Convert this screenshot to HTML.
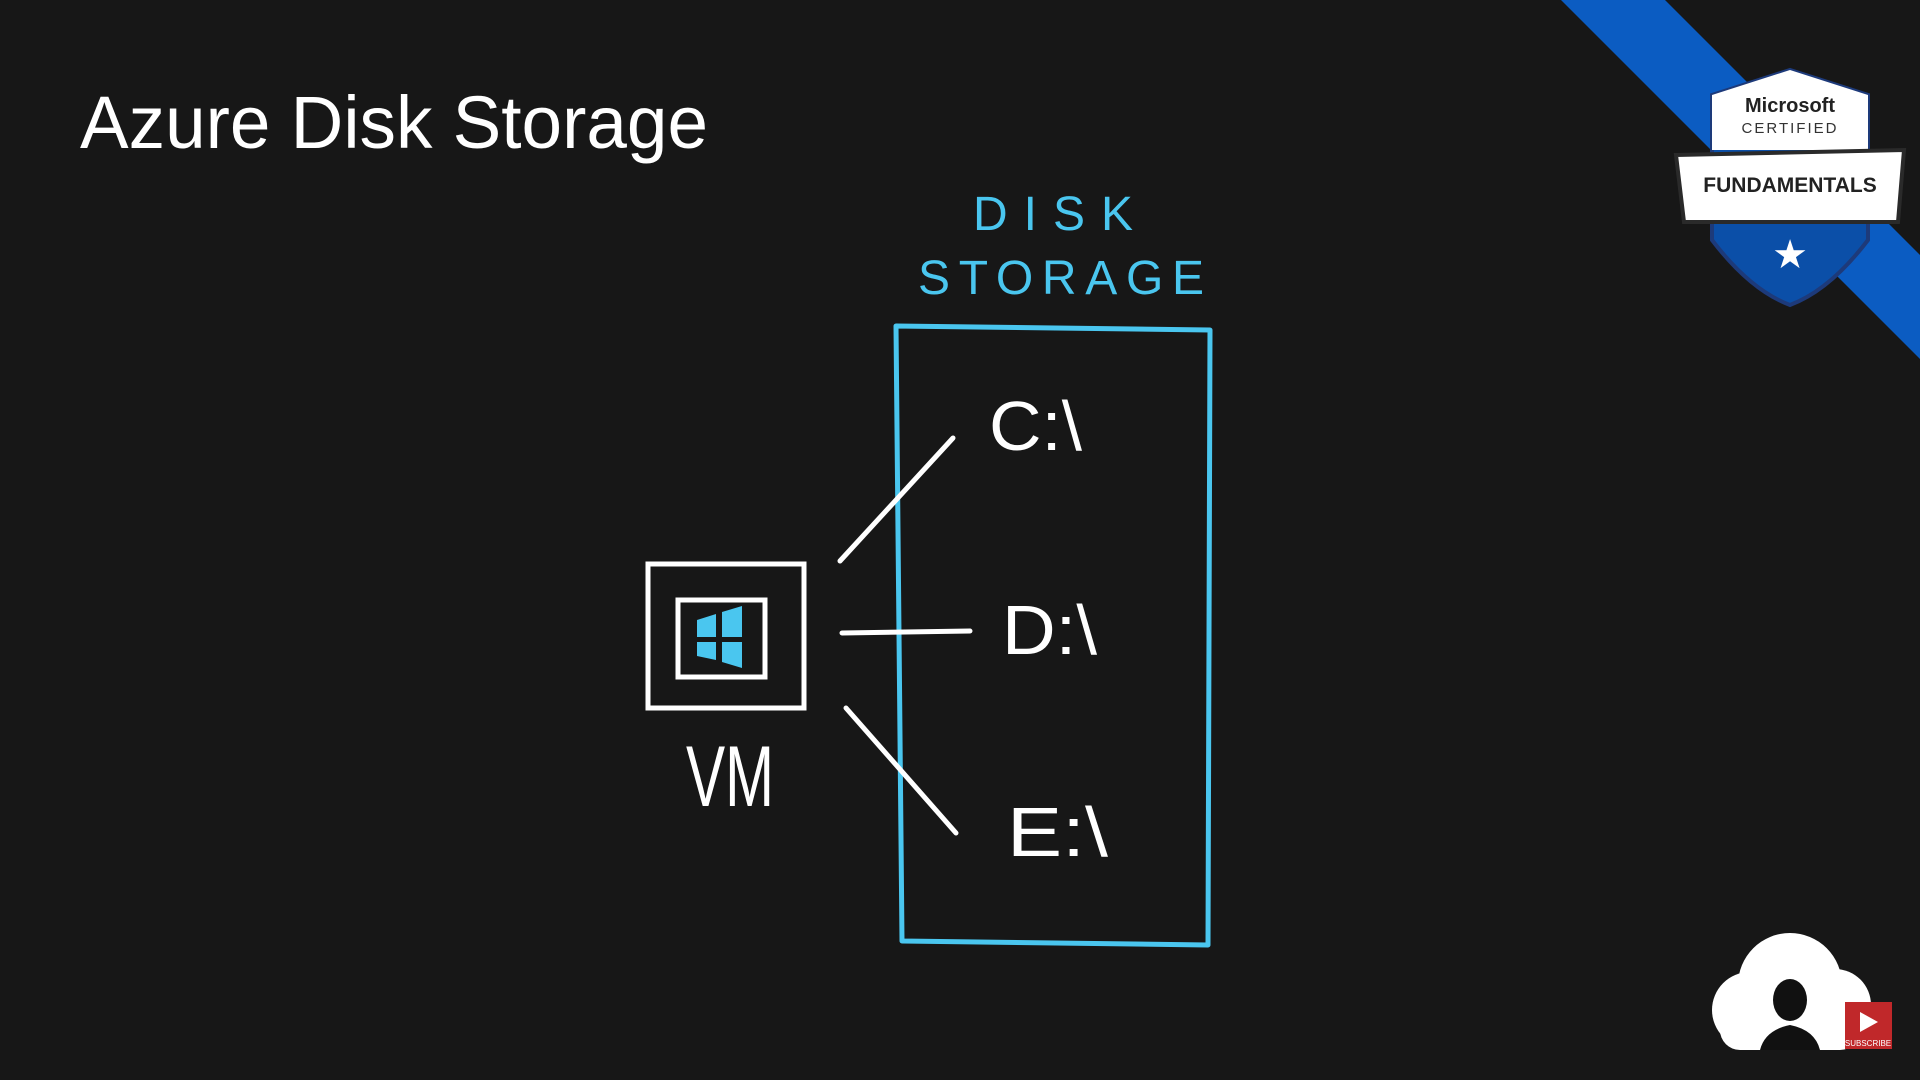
<!DOCTYPE html>
<html><head><meta charset="utf-8"><style>
html,body{margin:0;padding:0;background:#171717;width:1920px;height:1080px;overflow:hidden}
svg{display:block}
</style></head><body>
<svg width="1920" height="1080" viewBox="0 0 1920 1080" xmlns="http://www.w3.org/2000/svg">
<rect width="1920" height="1080" fill="#171717"/>
<text x="80" y="148" font-family="Liberation Sans, sans-serif" font-size="74" fill="#ffffff" textLength="628" lengthAdjust="spacingAndGlyphs">Azure Disk Storage</text>
<polygon points="1561,0 1665,0 1920,255 1920,359" fill="#0b5cc2"/>
<!-- badge -->
<path d="M1712,95 L1790,70 L1868,95 L1868,240 Q1830,290 1790,305 Q1750,290 1712,240 Z" fill="#0b4fa8" stroke="#1d3a7a" stroke-width="4"/>
<path d="M1712,95 L1790,70 L1868,95 L1868,150 L1712,150 Z" fill="#ffffff"/>
<text x="1790" y="112" text-anchor="middle" font-family="Liberation Sans, sans-serif" font-weight="bold" font-size="20" fill="#222">Microsoft</text>
<text x="1790" y="133" text-anchor="middle" font-family="Liberation Sans, sans-serif" font-size="15" letter-spacing="2" fill="#333">CERTIFIED</text>
<path d="M1676,155 L1904,150 L1898,222 L1684,222 Z" fill="#ffffff" stroke="#2a2a2a" stroke-width="4"/>
<text x="1790" y="192" text-anchor="middle" font-family="Liberation Sans, sans-serif" font-weight="bold" font-size="21" fill="#222">FUNDAMENTALS</text>
<text x="1790" y="268" text-anchor="middle" font-family="DejaVu Sans, sans-serif" font-size="40" fill="#ffffff">★</text>
<!-- disk storage label -->
<g font-family="Liberation Sans, sans-serif" fill="#4ac6ef" font-size="48">
<text x="973" y="230" textLength="160" lengthAdjust="spacing">DISK</text>
<text x="918" y="294" textLength="286" lengthAdjust="spacing">STORAGE</text>
</g>
<!-- storage box -->
<path d="M896,326 L1210,330 L1208,945 L902,941 Z" fill="none" stroke="#4ac6ef" stroke-width="5" stroke-linejoin="round"/>
<!-- VM -->
<rect x="648" y="564" width="156" height="144" fill="none" stroke="#fff" stroke-width="5"/>
<rect x="678" y="600" width="87" height="77" fill="none" stroke="#fff" stroke-width="5"/>
<polygon points="697,620 716,614 716,637 697,637" fill="#4ac6ef"/>
<polygon points="722,612 742,606 742,637 722,637" fill="#4ac6ef"/>
<polygon points="697,642 716,642 716,660 697,656" fill="#4ac6ef"/>
<polygon points="722,642 742,642 742,668 722,662" fill="#4ac6ef"/>
<text x="686" y="806" font-family="Liberation Sans, sans-serif" font-size="86" fill="#fff" textLength="88" lengthAdjust="spacingAndGlyphs">VM</text>
<!-- lines -->
<g stroke="#fff" stroke-width="5" stroke-linecap="round" fill="none">
<line x1="840" y1="561" x2="953" y2="438"/>
<line x1="842" y1="633" x2="970" y2="631"/>
<line x1="846" y1="708" x2="956" y2="833"/>
</g>
<g font-family="Liberation Sans, sans-serif" font-size="70" fill="#fff">
<text x="989" y="450" textLength="93" lengthAdjust="spacingAndGlyphs">C:\</text>
<text x="1002" y="654" textLength="95" lengthAdjust="spacingAndGlyphs">D:\</text>
<text x="1007" y="856" textLength="101" lengthAdjust="spacingAndGlyphs">E:\</text>
</g>
<!-- avatar -->
<g fill="#fff">
<circle cx="1790" cy="985" r="52"/>
<circle cx="1750" cy="1010" r="38"/>
<circle cx="1835" cy="1005" r="36"/>
<rect x="1720" y="1000" width="140" height="50" rx="20"/>
</g>
<path d="M1760,1050 Q1765,1030 1790,1025 Q1815,1030 1820,1050 Z" fill="#111"/>
<ellipse cx="1790" cy="1000" rx="17" ry="21" fill="#111"/>
<rect x="1845" y="1002" width="47" height="47" fill="#c0282a"/>
<polygon points="1860,1012 1878,1022 1860,1032" fill="#fff"/>
<text x="1868" y="1046" text-anchor="middle" font-family="Liberation Sans, sans-serif" font-size="8" fill="#fff">SUBSCRIBE</text>
</svg>
</body></html>
